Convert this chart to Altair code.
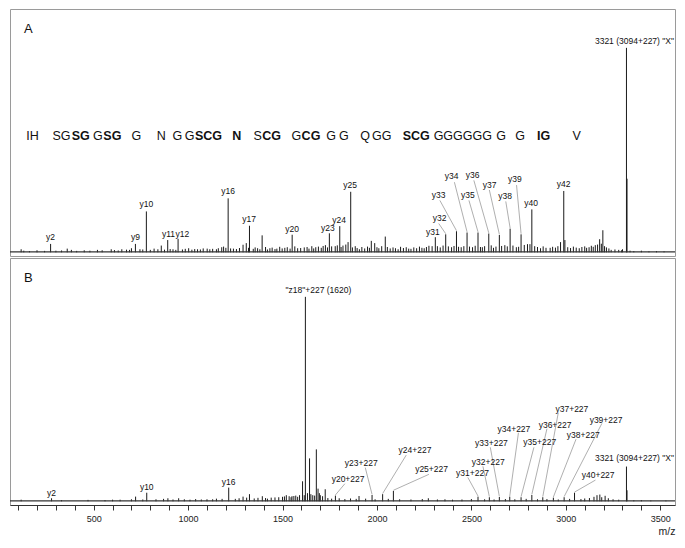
import altair as alt
import pandas as pd

FONT = "Liberation Sans, Arial, sans-serif"
XDOM = [57, 3578]
YDOM = [-1.8, 119]

# ---------------- Panel A: spectrum peaks (m/z, relative intensity) ----------------
a_mz = [272, 721, 779, 892, 947, 1212, 1325, 1551, 1748, 1803, 1861, 2309, 2364, 2421,
        2477, 2535, 2592, 2648, 2705, 2763, 2820, 2989, 3321,
        116, 200, 360, 382, 450, 520, 593, 649, 674, 700, 745, 820, 858, 920, 1003, 1050,
        1101, 1150, 1178, 1188, 1240, 1291, 1308, 1368, 1392, 1433, 1470, 1512, 1580, 1615,
        1640, 1676, 1727, 1779, 1820, 1847, 1907, 1970, 1988, 2010, 2044, 2112, 2180, 2250,
        2292, 2395, 2446, 2506, 2558, 2617, 2677, 2738, 2797, 2810, 2866, 2917, 2972, 2995,
        3071, 3123, 3156, 3179, 3196, 3240, 3300, 3324, 3400, 3480,
        130, 160, 240, 300, 330, 410, 480, 545, 610, 630, 690, 760, 800, 840, 875, 905, 935,
        970, 985, 1020, 1035, 1065, 1080, 1115, 1130, 1160, 1200, 1225,
        1256, 1272, 1320, 1345, 1355, 1380, 1410, 1420, 1445, 1460, 1485, 1498, 1525, 1540,
        1565, 1596, 1630, 1655, 1665, 1690, 1705, 1715, 1738, 1760, 1790, 1810, 1835, 1870,
        1885, 1895, 1920, 1935, 1950, 1960, 2000, 2025, 2055, 2070, 2085, 2098, 2125, 2140,
        2155, 2168, 2195, 2210, 2225, 2238, 2262, 2275, 2320, 2335, 2350, 2378, 2408, 2432,
        2460, 2490, 2520, 2548, 2570, 2605, 2630, 2660, 2690, 2720, 2750, 2780, 2835, 2850,
        2880, 2895, 2930, 2945, 2958, 3010, 3025, 3040, 3055, 3085, 3100, 3110, 3135, 3145,
        3168, 3188, 3205, 3215, 3228, 3260, 3280, 3295, 3340, 3360, 3440, 3520]
a_int = [4.1, 4.1, 20.0, 6.0, 6.6, 26.4, 13.0, 8.6, 9.3, 12.8, 29.6, 7.4, 8.8, 10.3,
         9.7, 9.7, 9.2, 8.5, 11.6, 8.8, 21.0, 30.0, 100.0,
         1.5, 1.0, 1.8, 1.2, 1.0, 1.2, 1.5, 1.5, 1.3, 2.0, 1.5, 1.8, 3.3, 1.5, 2.0, 1.5,
         1.8, 1.5, 2.5, 2.8, 1.8, 3.7, 4.5, 2.0, 8.3, 2.0, 1.8, 2.2, 2.0, 2.4,
         1.8, 2.5, 3.5, 3.0, 3.3, 5.0, 1.5, 5.6, 4.5, 2.0, 7.7, 1.5, 1.7, 2.0,
         3.0, 2.5, 2.5, 2.5, 2.5, 2.2, 3.5, 2.5, 4.0, 4.0, 2.0, 2.2, 5.0, 6.0,
         2.0, 2.5, 3.5, 6.4, 10.8, 1.2, 1.5, 36.0, 0.8, 0.6,
         0.8, 0.6, 0.7, 0.8, 0.9, 0.7, 0.8, 1.0, 1.1, 0.9, 1.2, 1.4, 1.2, 1.5, 1.3, 1.6, 1.2,
         1.4, 1.7, 1.3, 1.6, 1.4, 1.9, 1.5, 1.7, 2.0, 2.2, 1.9,
         1.6, 2.1, 2.2, 1.7, 2.4, 1.5, 2.6, 1.4, 2.3, 1.6, 2.7, 1.9, 2.5, 1.8,
         2.9, 2.1, 2.6, 3.0, 1.9, 2.8, 2.2, 3.1, 2.4, 2.9, 3.4, 2.6, 3.8, 2.4,
         3.0, 2.1, 2.6, 1.9, 2.8, 2.2, 2.5, 3.0, 2.6, 1.9, 2.4, 2.0, 2.7, 2.1,
         2.5, 1.8, 2.4, 2.0, 2.8, 2.2, 2.6, 3.2, 3.0, 2.4, 3.3, 2.9, 3.1, 2.7,
         3.0, 2.8, 3.2, 2.6, 3.0, 3.4, 2.8, 3.1, 2.9, 3.3, 2.7, 3.6, 3.0, 2.6,
         2.9, 2.2, 2.7, 2.3, 3.0, 2.5, 2.1, 2.8, 2.3, 2.6, 2.9, 2.2, 3.2, 2.7,
         3.8, 4.2, 3.0, 2.4, 1.9, 1.4, 1.2, 1.0, 0.8, 0.6, 0.5, 0.5]

# direct labels in panel A
a_lab = ["y2", "y9", "y10", "y11", "y12", "y16", "y17", "y20", "y23", "y24", "y25",
         "y31", "y40", "y42"]
a_lab_mz = [272, 721, 779, 896, 970, 1212, 1323, 1551, 1740, 1800, 1858, 2296, 2816, 2988]
a_lab_int = [7.7, 7.4, 23.8, 8.8, 8.9, 29.9, 16.3, 11.3, 11.9, 15.8, 32.7, 10.0, 24.1, 33.2]

# labels with leader lines in panel A
a_ld = ["y32", "y33", "y34", "y35", "y36", "y37", "y38", "y39"]
a_ld_mz = [2332, 2327, 2395, 2481, 2506, 2597, 2678, 2730]
a_ld_int = [17.0, 28.0, 37.4, 28.0, 37.7, 33.0, 27.6, 35.8]
a_ld_from_mz = [2327, 2333, 2410, 2487, 2513, 2595, 2682, 2739]
a_ld_from_int = [14.1, 25.4, 34.3, 25.4, 35.2, 30.5, 24.9, 32.9]
a_ld_to_mz = [2364, 2421, 2477, 2535, 2592, 2648, 2705, 2763]
a_ld_to_int = [9.1, 10.6, 10.0, 10.0, 9.5, 8.8, 11.9, 9.1]

# peptide sequence (chunks, bold flag, start m/z)
seq_txt = ["IH", "SG", "SG", "G", "SG", "G", "N", "G", "G", "SCG", "N", "S", "CG", "G", "CG",
           "G", "G", "Q", "GG", "SCG", "GGGGGG", "G", "G", "IG", "V"]
seq_bold = [0, 0, 1, 0, 1, 0, 0, 0, 0, 1, 1, 0, 1, 0, 1,
            0, 0, 0, 0, 1, 0, 0, 0, 1, 0]
seq_mz = [143, 282, 384, 496, 551, 700, 834, 918, 982, 1036, 1234, 1346, 1392, 1548, 1601,
          1732, 1799, 1912, 1974, 2136, 2300, 2631, 2732, 2847, 3035]
seq_int = 57.0

# ---------------- Panel B ----------------
b_mz = [277, 781, 1215, 1621, 1780, 1974, 2030, 2087, 2535, 2595, 2648, 2703, 2763, 2820,
        2878, 2934, 2991, 3046, 3321,
        116, 330, 470, 560, 640, 722, 893, 950, 1010, 1100, 1180, 1291, 1325, 1393, 1440,
        1480, 1500, 1520, 1535, 1550, 1570, 1590, 1606, 1632, 1643, 1660, 1679, 1688, 1700,
        1712, 1726, 1905, 2272, 2400, 3149, 3165, 3180, 3208, 3324, 3400,
        600, 700, 760, 830, 870, 920, 980, 1040, 1070, 1130, 1150, 1250, 1270, 1310, 1350,
        1370, 1410, 1420, 1460, 1510, 1545, 1560, 1580, 1615, 1650, 1670, 1695, 1740, 1760,
        1800, 1830, 1860, 1890, 1940, 1990, 2060, 2120, 2180, 2240, 2320, 2360, 2450, 2500,
        2570, 2620, 2680, 2730, 2790, 2850, 2900, 2960, 3020, 3080, 3100, 3125, 3190, 3225,
        3250, 3280, 3360, 3450, 3530]
b_int = [1.5, 4.2, 6.7, 100.0, 2.8, 3.1, 3.5, 5.1, 2.3, 2.0, 2.1, 2.3, 2.0, 3.1,
         2.0, 1.8, 2.0, 4.2, 17.0,
         0.8, 0.6, 0.7, 0.6, 0.8, 2.3, 1.5, 1.5, 0.8, 1.0, 1.2, 2.3, 3.5, 2.5, 1.8,
         2.0, 2.2, 3.0, 2.5, 2.5, 2.8, 3.0, 9.8, 4.0, 21.0, 3.0, 25.4, 6.2, 3.0,
         2.5, 5.9, 2.6, 1.5, 0.8, 2.2, 3.0, 3.3, 2.7, 5.4, 0.6,
         0.8, 1.0, 0.9, 1.0, 1.2, 0.9, 1.0, 1.1, 0.9, 1.0, 1.3, 1.2, 1.5, 1.8, 1.4,
         1.7, 1.6, 1.3, 1.9, 2.4, 2.0, 2.6, 2.2, 3.0, 3.5, 2.8, 4.0, 1.6, 1.3,
         1.5, 1.1, 1.4, 1.2, 1.3, 1.0, 1.2, 1.0, 0.9, 1.1, 0.9, 1.0, 0.9, 1.1,
         1.0, 0.9, 1.1, 1.0, 1.2, 1.0, 1.1, 0.9, 1.2, 1.1, 1.4, 1.6, 2.0, 1.5,
         1.0, 0.8, 0.5, 0.4, 0.4]

b_lab = ["y2", "y10", "y16", "\"z18\"+227 (1620)"]
b_lab_mz = [277, 781, 1215, 1690]
b_lab_int = [4.3, 7.1, 9.6, 103.5]

b_ld = ["y20+227", "y23+227", "y24+227", "y25+227", "y31+227", "y32+227", "y33+227",
        "y34+227", "y35+227", "y36+227", "y37+227", "y38+227", "y39+227", "y40+227"]
b_ld_mz = [1847, 1917, 2201, 2289, 2506, 2589, 2606, 2725, 2862, 2943, 3032, 3092, 3213, 3171]
b_ld_int = [10.9, 18.8, 24.9, 16.0, 13.7, 19.4, 28.5, 35.5, 28.8, 37.4, 45.1, 32.2, 40.0, 12.8]
b_ld_from_mz = [1830, 1938, 2155, 2275, 2481, 2561, 2600, 2749, 2831, 2900, 2960, 3054, 3191, 3157]
b_ld_from_int = [8.6, 16.5, 22.6, 13.2, 11.7, 17.1, 26.4, 33.5, 26.4, 35.5, 43.3, 30.4, 38.1, 10.4]
b_ld_to_mz = [1780, 1974, 2030, 2087, 2535, 2595, 2648, 2703, 2763, 2820, 2878, 2934, 2991, 3046]
b_ld_to_int = [3.1, 3.4, 3.8, 5.4, 2.6, 2.3, 2.4, 2.6, 2.3, 3.4, 2.3, 2.1, 2.3, 4.5]

# precursor label: right end sits at the right edge of the m/z range
prec_label = "3321 (3094+227) \"X\""
a_prec_mz, a_prec_int = XDOM[1], 103.3
b_prec_mz, b_prec_int = XDOM[1], 21.0

W, H = 665, 247
xs = alt.Scale(domain=XDOM, nice=False, zero=False)
ys = alt.Scale(domain=YDOM, nice=False, zero=False)


def panel(letter, mz, inten, lab, lab_mz, lab_int, ld, ld_mz, ld_int, fmz, fint, tmz, tint,
          pmz, pint, axis, seq=False):
    def X(field):
        return alt.X(field, scale=xs, axis=axis)

    pk = pd.DataFrame({"mz": mz, "i": inten, "b": [0.0] * len(mz)})
    peaks = alt.Chart(pk).mark_rule(color="#1a1a1a", strokeWidth=1).encode(
        x=X("mz:Q"),
        y=alt.Y("b:Q", scale=ys, axis=None),
        y2="i:Q",
    )
    base = alt.Chart(pd.DataFrame({"b": [0.2]})).mark_rule(color="#333", strokeWidth=1.3).encode(
        y=alt.Y("b:Q", scale=ys, axis=None)
    )
    lab_df = pd.DataFrame({"mz": lab_mz + ld_mz, "i": lab_int + ld_int, "t": lab + ld})
    labels = alt.Chart(lab_df).mark_text(font=FONT, fontSize=8.5, color="#111",
                                         baseline="middle", align="center").encode(
        x=X("mz:Q"),
        y=alt.Y("i:Q", scale=ys, axis=None),
        text="t:N",
    )
    ld_df = pd.DataFrame({"x1": fmz, "y1": fint, "x2": tmz, "y2": tint})
    leaders = alt.Chart(ld_df).mark_rule(color="#9a9a9a", strokeWidth=0.8).encode(
        x=X("x1:Q"),
        y=alt.Y("y1:Q", scale=ys, axis=None),
        x2="x2:Q",
        y2="y2:Q",
    )
    prec = alt.Chart(pd.DataFrame({"mz": [pmz], "i": [pint], "t": [prec_label]})).mark_text(
        font=FONT, fontSize=8.5, color="#111", baseline="middle", align="right", dx=-1).encode(
        x=X("mz:Q"),
        y=alt.Y("i:Q", scale=ys, axis=None),
        text="t:N",
    )
    let = alt.Chart(pd.DataFrame({"t": [letter]})).mark_text(
        font=FONT, fontSize=13, color="#111", baseline="middle", align="left").encode(
        x=alt.value(14), y=alt.value(20), text="t:N")
    layers = [peaks, base, leaders, labels, prec, let]
    if seq:
        sdf = pd.DataFrame({"mz": seq_mz, "t": seq_txt, "bold": seq_bold,
                            "i": [seq_int] * len(seq_mz)})
        for flag, weight in [(0, "normal"), (1, "bold")]:
            layers.append(
                alt.Chart(sdf).transform_filter(alt.datum.bold == flag).mark_text(
                    font=FONT, fontSize=12.5, fontWeight=weight, color="#111",
                    baseline="middle", align="left").encode(
                    x=X("mz:Q"),
                    y=alt.Y("i:Q", scale=ys, axis=None),
                    text="t:N",
                )
            )
    return alt.layer(*layers).properties(width=W, height=H)


xaxis = alt.Axis(
    values=list(range(100, 3600, 100)),
    labelExpr="datum.value % 500 === 0 ? datum.label : ''",
    format="d", tickSize=5, tickColor="#333", domainColor="#333", grid=False,
    labelFont=FONT, labelFontSize=9, labelColor="#222", labelPadding=4,
    labelOverlap=False, labelFlush=False,
    title="m/z", titleFont=FONT, titleFontSize=10.5, titleFontWeight="normal",
    titleColor="#222", titleAnchor="end", titleAlign="right", titlePadding=3,
)

pa = panel("A", a_mz, a_int, a_lab, a_lab_mz, a_lab_int, a_ld, a_ld_mz, a_ld_int,
           a_ld_from_mz, a_ld_from_int, a_ld_to_mz, a_ld_to_int, a_prec_mz, a_prec_int,
           None, seq=True)
pb = panel("B", b_mz, b_int, b_lab, b_lab_mz, b_lab_int, b_ld, b_ld_mz, b_ld_int,
           b_ld_from_mz, b_ld_from_int, b_ld_to_mz, b_ld_to_int, b_prec_mz, b_prec_int,
           xaxis)

chart = alt.vconcat(pa, pb, spacing=0).properties(padding=0).configure_view(
    stroke="#9a9a9a", strokeWidth=1)

chart.save("out.html", embed_options={"renderer": "svg", "actions": False})
